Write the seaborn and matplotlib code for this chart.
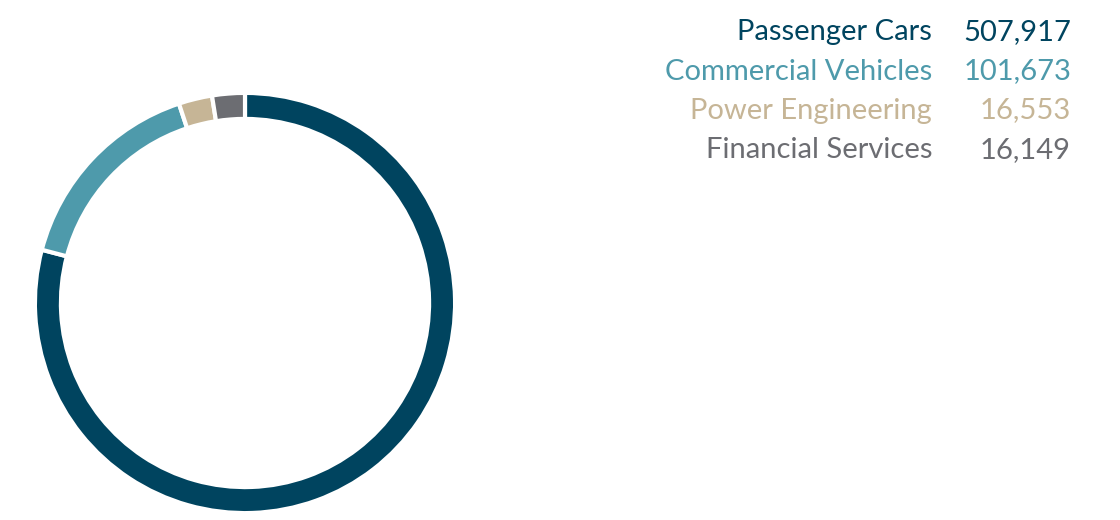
import matplotlib
matplotlib.use("Agg")
import matplotlib.pyplot as plt
import seaborn as sns

categories = ["Passenger Cars", "Commercial Vehicles", "Power Engineering", "Financial Services"]
values = [507917, 101673, 16553, 16149]
value_labels = ["507,917", "101,673", "16,553", "16,149"]
colors = ["#00445F", "#4E9AAB", "#C6B596", "#6C6D72"]

sns.set_theme(style="white")
plt.rcParams["font.family"] = ["Lato", "DejaVu Sans"]

W, H = 1120, 520
fig = plt.figure(figsize=(W / 100, H / 100), dpi=100)
fig.patch.set_facecolor("white")

cx, cy, R = 245, 303, 208
ax = fig.add_axes([(cx - R) / W, (H - cy - R) / H, 2 * R / W, 2 * R / H])
wedges, _ = ax.pie(values, colors=colors, startangle=90, counterclock=False, radius=1.01,
                   wedgeprops=dict(width=0.125, edgecolor="white", linewidth=3))
for w in wedges:
    w.set_clip_on(False)
ax.set_xlim(-1.0, 1.0)
ax.set_ylim(-1.0, 1.0)
ax.set_axis_off()

baselines = [40, 79.5, 118.5, 158]
for cat, val, col, yb in zip(categories, value_labels, colors, baselines):
    fig.text(932 / W, 1 - yb / H, cat, color=col, ha="right", va="baseline", fontsize=21)
    fig.text(1071 / W, 1 - yb / H, val, color=col, ha="right", va="baseline", fontsize=21)

fig.savefig("out.png", dpi=100, facecolor="white")
